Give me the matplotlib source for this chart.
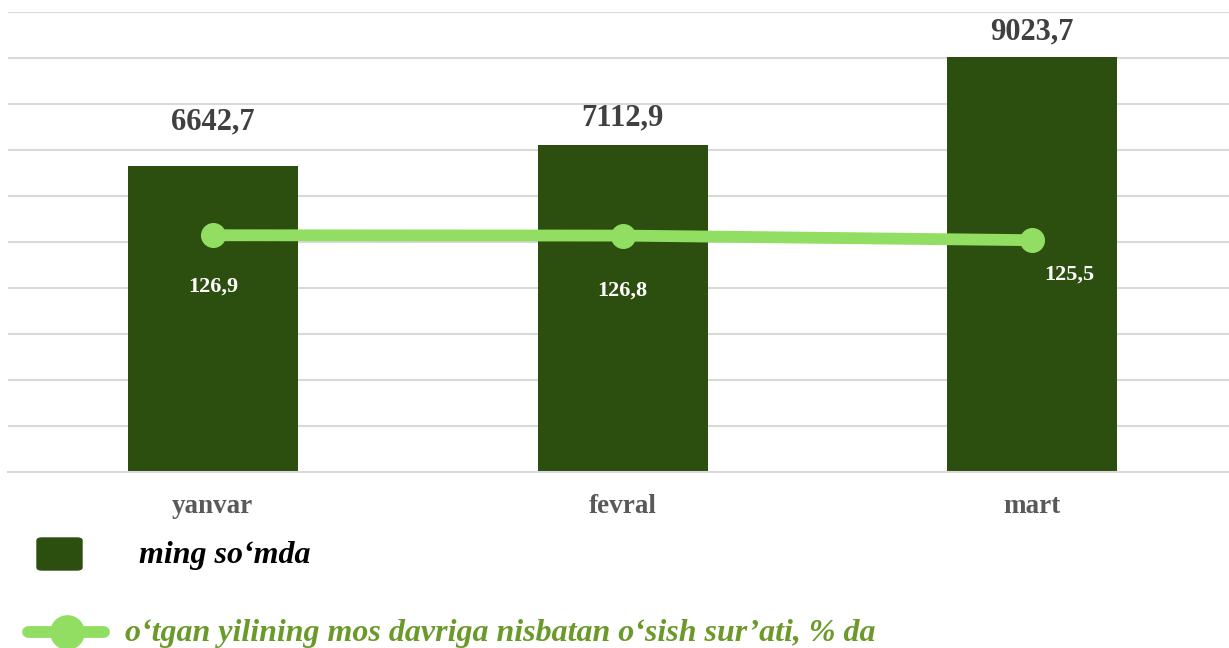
import matplotlib
matplotlib.use("Agg")
import matplotlib.pyplot as plt
from matplotlib.patches import FancyBboxPatch
from matplotlib.lines import Line2D

plt.rcParams['font.family'] = ['Liberation Serif', 'DejaVu Serif']

months = ["yanvar", "fevral", "mart"]
amounts = [6642.7, 7112.9, 9023.7]          # ming so'mda
growth = [126.9, 126.8, 125.5]              # % da

amount_labels = ["6642,7", "7112,9", "9023,7"]
growth_labels = ["126,9", "126,8", "125,5"]

BAR_COLOR = "#2c4f10"
LINE_COLOR = "#92de63"
LEGEND_GREEN = "#6b9a2a"

fig = plt.figure(figsize=(12.29, 6.48), dpi=100)
ax = fig.add_axes([0.0065, 0.2716, 0.9935, 0.71])

x = list(range(len(months)))
ax.bar(x, amounts, width=0.415, color=BAR_COLOR, zorder=2)
ax.set_ylim(0, 10000)
ax.set_xlim(-0.5, 2.48)
ax.set_yticks(range(0, 10001, 1000))
ax.yaxis.grid(True, color="#d9d9d9", linewidth=1.5, zorder=0)
ax.set_axisbelow(True)
ax.set_xticks(x)
ax.set_xticklabels(months, fontsize=19.5, fontweight="bold", color="#595959")
for s in ["top", "right", "left"]:
    ax.spines[s].set_visible(False)
ax.spines["bottom"].set_color("#d9d9d9")
ax.spines["bottom"].set_linewidth(1.5)

# bar value labels
label_offsets = [44, 27, 25]
for xi, v, lab, off in zip(x, amounts, amount_labels, label_offsets):
    ax.annotate(lab, (xi, v), xytext=(0, off), textcoords="offset pixels",
                ha="center", va="center", fontsize=22, fontweight="bold",
                color="#404040")

ax2 = ax.twinx()
ax2.set_ylim(60, 190)
ax2.axis("off")
ax2.plot(x, growth, color=LINE_COLOR, linewidth=8.5, marker="o",
         markersize=17, zorder=3, solid_capstyle="butt")
growth_offsets = [(0, -51), (0, -55), (37, -34)]
for xi, v, lab, off in zip(x, growth, growth_labels, growth_offsets):
    ax2.annotate(lab, (xi, v), xytext=off, textcoords="offset pixels",
                 ha="center", va="center", fontsize=16, fontweight="bold",
                 color="white")

# twinx turns the left ticks back on
ax.tick_params(axis="y", left=False, labelleft=False)
ax.tick_params(axis="x", bottom=False, pad=12)

# legend
W, H = 1229, 648
box = FancyBboxPatch((37 / W, 1 - 570 / H), 45 / W, 32 / H,
                     boxstyle="round,pad=0,rounding_size=0.004",
                     transform=fig.transFigure, facecolor=BAR_COLOR,
                     edgecolor=BAR_COLOR)
fig.patches.append(box)
fig.text(139 / W, 1 - 556 / H, "ming so‘mda", fontsize=23, fontweight="bold",
         fontstyle="italic", color="black", va="center", ha="left")

fig.lines.append(Line2D([28 / W, 104 / W], [1 - 632 / H, 1 - 632 / H],
                        transform=fig.transFigure, color=LINE_COLOR,
                        linewidth=8.5, solid_capstyle="round"))
fig.lines.append(Line2D([67 / W], [1 - 632 / H], transform=fig.transFigure,
                        color=LINE_COLOR, marker="o", markersize=24,
                        linestyle="none"))
fig.text(125 / W, 1 - 633 / H,
         "o‘tgan yilining mos davriga nisbatan o‘sish sur’ati, % da",
         fontsize=23, fontweight="bold", fontstyle="italic",
         color=LEGEND_GREEN, va="center", ha="left")

fig.savefig("out.png", dpi=100)
